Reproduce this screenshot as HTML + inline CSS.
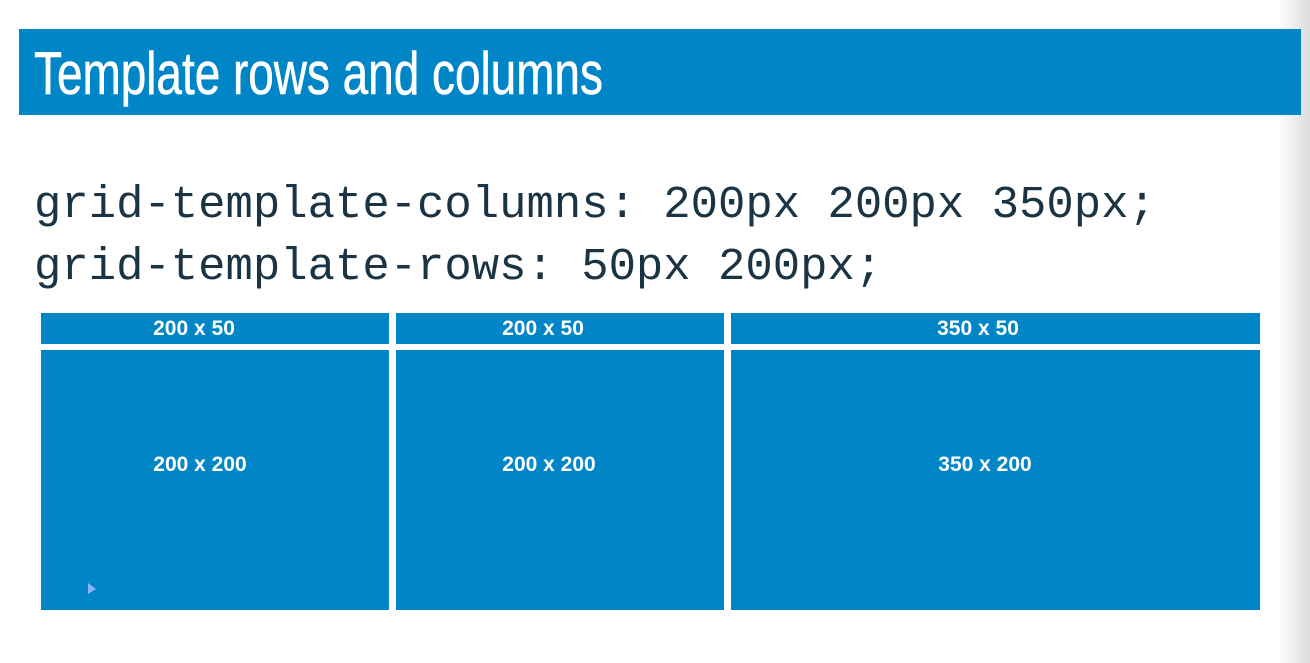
<!DOCTYPE html>
<html><head><style>
body{margin:0;width:1310px;height:663px;background:#fff;position:relative;overflow:hidden;font-family:"Liberation Sans",sans-serif}
.g{position:absolute;left:1278px;top:0;width:32px;height:663px;background:linear-gradient(to right,#fff,#dcdcdc)}
.h{position:absolute;left:19px;top:29px;width:1282px;height:86px;background:#0085c7}
.t{position:absolute;left:34px;top:39px;color:#fff;font-size:60px;white-space:nowrap;transform:scaleX(0.765);transform-origin:left top;line-height:70px;-webkit-text-stroke:0.6px #fff}
.c{position:absolute;left:34px;font-family:"Liberation Mono",monospace;font-size:45.6px;color:#1b3444;white-space:nowrap;line-height:50px}
.b{position:absolute;background:#0085c7}
.l{position:absolute;color:#fff;font-weight:bold;font-size:21px;transform:translateX(-50%);white-space:nowrap;line-height:24px}
</style></head><body>
<div class="g"></div>
<div class="h"></div>
<div class="t">Template rows and columns</div>
<div class="c" style="top:180px">grid-template-columns: 200px 200px 350px;</div>
<div class="c" style="top:242px">grid-template-rows: 50px 200px;</div>
<div class="b" style="left:41px;top:313px;width:348px;height:31px"></div>
<div class="b" style="left:396px;top:313px;width:328px;height:31px"></div>
<div class="b" style="left:731px;top:313px;width:529px;height:31px"></div>
<div class="b" style="left:41px;top:350px;width:348px;height:260px"></div>
<div class="b" style="left:396px;top:350px;width:328px;height:260px"></div>
<div class="b" style="left:731px;top:350px;width:529px;height:260px"></div>
<div class="l" style="left:194px;top:317px">200 x 50</div>
<div class="l" style="left:543px;top:317px">200 x 50</div>
<div class="l" style="left:978px;top:317px">350 x 50</div>
<div class="l" style="left:200px;top:453px">200 x 200</div>
<div class="l" style="left:549px;top:453px">200 x 200</div>
<div class="l" style="left:985px;top:453px">350 x 200</div>
<svg style="position:absolute;left:86px;top:582px" width="12" height="14"><polygon points="2,1 2,12 10,7" fill="#8fb4ff"/></svg>
</body></html>
